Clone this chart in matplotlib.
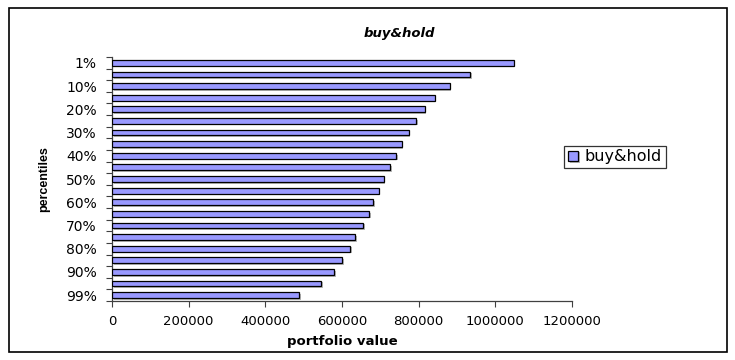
import matplotlib
matplotlib.use("Agg")
import matplotlib.pyplot as plt
import matplotlib.patheffects as pe
from matplotlib.patches import Rectangle
import numpy as np

plt.rcParams['font.family'] = ['DejaVu Sans']

categories = ["1%", "5%", "10%", "15%", "20%", "25%", "30%", "35%", "40%", "45%", "50%",
              "55%", "60%", "65%", "70%", "75%", "80%", "85%", "90%", "95%", "99%"]
values = [1048000, 933500, 881000, 842000, 816000, 793000, 774000, 756000, 740500, 725000,
          709000, 696000, 680600, 670000, 654500, 633600, 620600, 600000, 579000, 545000, 487600]
xticks = [0, 200000, 400000, 600000, 800000, 1000000, 1200000]
series_name = "buy&hold"

fig = plt.figure(figsize=(7.35, 3.6), dpi=100)
fig.patches.append(Rectangle((9/735, 1-352/360), (727-9)/735, (352-8)/360,
                             transform=fig.transFigure, fill=False, edgecolor='black', linewidth=1.2))

ax = fig.add_axes([112/735, 1-301/360, (572-112)/735, (301-57)/360])
y = np.arange(len(categories))
bars = ax.barh(y, values, height=0.5, color='#9999FF', edgecolor='black', linewidth=0.9,
               label=series_name, zorder=3)
for b in bars:
    b.set_path_effects([pe.SimplePatchShadow(offset=(1.2, -1.2), shadow_rgbFace='#888888', alpha=0.6),
                        pe.Normal()])

ax.set_ylim(len(categories) - 0.5, -0.5)
ax.set_xlim(0, 1200000)
ax.set_xticks(xticks)
ax.set_xticklabels([str(v) for v in xticks], fontsize=9.5)
ax.tick_params(axis='x', direction='out', length=4, width=0.8, color='#404040', pad=6)

ax.set_yticks(y[::2])
ax.set_yticklabels(categories[::2], fontsize=10)
ax.tick_params(axis='y', which='major', length=0, pad=11)
ax.set_yticks(np.arange(-0.5, len(categories)), minor=True)
ax.tick_params(axis='y', which='minor', direction='out', length=4, width=0.8, color='#404040')

for s in ['top', 'right']:
    ax.spines[s].set_visible(False)
for s in ['left', 'bottom']:
    ax.spines[s].set_color('#404040')
    ax.spines[s].set_linewidth(0.9)

ax.set_xlabel("portfolio value", fontsize=9.5, fontweight='bold', labelpad=5)
fig.text(44/735, 1-179/360, "percentiles", rotation=90, fontsize=9, fontweight='bold',
         family='Liberation Sans', ha='center', va='center')
fig.text(399/735, 1-33/360, "buy&hold", fontsize=9.5, fontweight='bold', style='italic',
         ha='center', va='center')

leg = fig.legend(handles=[bars], labels=[series_name], loc='center',
                 bbox_to_anchor=(615/735, 1-157/360), frameon=True, fancybox=False,
                 edgecolor='black', fontsize=11.5, handlelength=0.6, handleheight=0.6,
                 handletextpad=0.4, borderpad=0.25, borderaxespad=0)
leg.get_frame().set_linewidth(0.9)

fig.savefig("out.png", dpi=100)
